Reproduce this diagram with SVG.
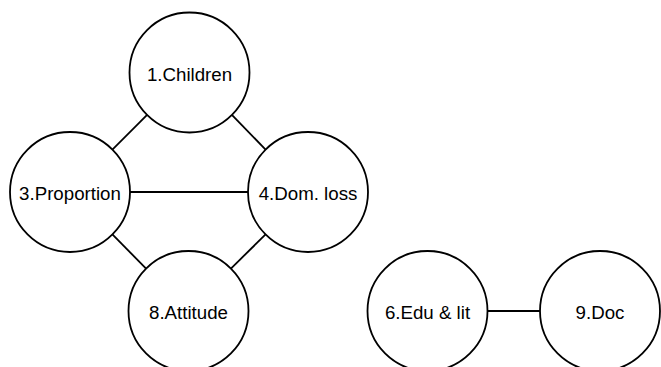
<svg xmlns="http://www.w3.org/2000/svg" width="661" height="367" viewBox="0 0 661 367">
  <style>
    .node circle { fill: #ffffff; stroke: #000000; stroke-width: 1.8; }
    .node text { font-family: "Liberation Sans", Arial, sans-serif; font-size: 18.7px; fill: #000000; text-anchor: middle; }
    .edges line { stroke: #000000; stroke-width: 1.8; }
  </style>
  <rect width="661" height="367" fill="#ffffff"/>
  <g id="edges" class="edges">
    <line x1="147.1" y1="114.9" x2="112.4" y2="149.6"/>
    <line x1="231.9" y1="114.9" x2="265.6" y2="149.6"/>
    <line x1="130" y1="192" x2="248" y2="192"/>
    <line x1="112.4" y1="234.4" x2="146.1" y2="268.6"/>
    <line x1="265.6" y1="234.4" x2="230.9" y2="268.6"/>
    <line x1="487.5" y1="311" x2="540" y2="311"/>
  </g>
  <g id="n1" class="node">
    <circle cx="189.5" cy="72.5" r="60"/>
    <text x="189.5" y="80.5">1.Children</text>
  </g>
  <g id="n3" class="node">
    <circle cx="70" cy="192" r="60"/>
    <text x="70" y="200">3.Proportion</text>
  </g>
  <g id="n4" class="node">
    <circle cx="308" cy="192" r="60"/>
    <text x="308" y="200">4.Dom. loss</text>
  </g>
  <g id="n8" class="node">
    <circle cx="188.5" cy="311" r="60"/>
    <text x="188.5" y="319">8.Attitude</text>
  </g>
  <g id="n6" class="node">
    <circle cx="427.5" cy="311" r="60"/>
    <text x="427.5" y="319">6.Edu &amp; lit</text>
  </g>
  <g id="n9" class="node">
    <circle cx="600" cy="311" r="60"/>
    <text x="600" y="319">9.Doc</text>
  </g>
</svg>
